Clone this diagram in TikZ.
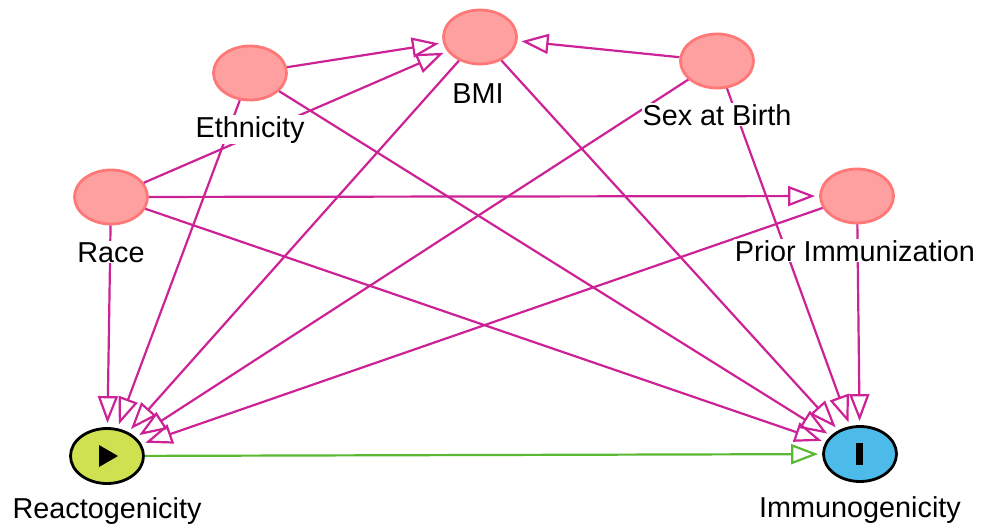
\documentclass[tikz,border=0pt]{standalone}
\usepackage{fontspec}
\setmainfont{Liberation Sans}
\usetikzlibrary{arrows.meta,shapes.geometric}

\definecolor{nodepink}{RGB}{255,160,160}
\definecolor{nodeedge}{RGB}{255,120,120}
\definecolor{pathmag}{RGB}{204,34,150}
\definecolor{pathgreen}{RGB}{90,185,50}
\definecolor{exposure}{RGB}{207,224,80}
\definecolor{outcome}{RGB}{77,187,234}

\tikzset{
  covar/.style={ellipse, fill=nodepink, draw=nodeedge, line width=2.8pt,
    minimum width=73pt, minimum height=54pt},
  mainvar/.style={ellipse, draw=black, line width=2.8pt,
    minimum width=73pt, minimum height=55pt},
  lbl/.style={fill=white, inner sep=1pt, anchor=base,
    font=\fontsize{28.8}{34}\selectfont},
  causal/.style={draw=pathmag, line width=2.2pt, shorten >=4pt,
    -{Triangle[open, length=27pt, width=20pt]}},
  direct/.style={draw=pathgreen, line width=2.2pt, shorten >=4pt,
    -{Triangle[open, length=27pt, width=20pt]}}
}

\begin{document}
\begin{tikzpicture}[x=1pt, y=-1pt]
\useasboundingbox (0,0) rectangle (984,527);

% Covariates
\node[covar] (bmi) at (480,37) {};
\node[covar] (eth) at (250,73) {};
\node[covar] (sex) at (717,61) {};
\node[covar] (race) at (111,197) {};
\node[covar] (prior) at (857,196) {};

% Exposure and outcome
\node[mainvar, fill=exposure] (react) at (107,456) {};
\node[mainvar, fill=outcome] (immuno) at (860,454) {};
\fill[black] (99,445) -- (118,456) -- (99,467) -- cycle;
\fill[black] (856,443) rectangle (863,465);

% Paths
\foreach \s/\t in {eth/bmi, race/bmi, sex/bmi, race/prior,
  race/react, eth/react, bmi/react, sex/react, prior/react,
  race/immuno, eth/immuno, bmi/immuno, sex/immuno, prior/immuno}
  \draw[causal] (\s) -- (\t);

\draw[direct] (react) -- (immuno);

% Labels
\node[lbl] (bmilbl) at (478,103) {BMI};
\node[lbl] (ethlbl) at (250,137) {Ethnicity};
\node[lbl] (sexlbl) at (717,125) {Sex at Birth};
\node[lbl] (racelbl) at (111,262) {Race};
\node[lbl] (priorlbl) at (855,261) {Prior Immunization};
\node[lbl] (reactlbl) at (107,518) {Reactogenicity};
\node[lbl] (immunolbl) at (860,517) {Immunogenicity};

\end{tikzpicture}
\end{document}
